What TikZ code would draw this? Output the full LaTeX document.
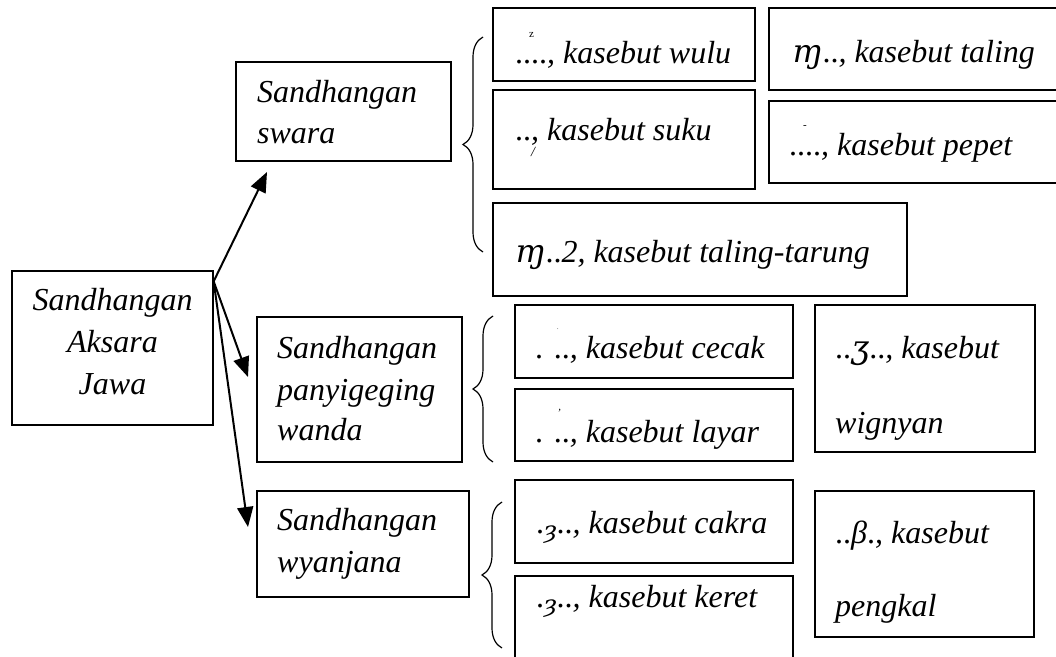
\documentclass[tikz,border=0pt]{standalone}
\usepackage{fontspec}
\setmainfont{Liberation Serif}
\newfontfamily\glyf{DejaVu Serif}
\usetikzlibrary{arrows.meta,decorations.pathreplacing,fit}
\newcommand\mrk[3]{\rlap{\kern#1\raisebox{#2}{\fontsize{11}{11}\selectfont\upshape #3}}}
\newcommand\jg[1]{{\glyf\itshape #1}}
\begin{document}
\begin{tikzpicture}[x=1pt,y=-1pt,
  box/.style={draw, line width=1.3pt, inner sep=0pt},
  lbl/.style={anchor=base west, inner sep=0pt, font=\fontsize{32}{41}\selectfont\itshape},
  lblc/.style={anchor=base, inner sep=0pt, font=\fontsize{32}{41}\selectfont\itshape},
  arr/.style={line width=2pt, -{Triangle[length=20pt,width=16pt]}},
  brc/.style={decorate, decoration={brace, amplitude=20pt}, line width=1.2pt}]
\useasboundingbox (0,0) rectangle (1056,656);
\clip (0,0) rectangle (1056,656);

% boxes
\node[box, fit={(12,271)(213,425)}] (main) {};
\node[box, fit={(236,62)(451,161)}] (swara) {};
\node[box, fit={(257,317)(462,462)}] (pany) {};
\node[box, fit={(257,491)(469,597)}] (wyan) {};
\node[box, fit={(493,8)(755,81)}] (wulu) {};
\node[box, fit={(493,90)(755,189)}] (suku) {};
\node[box, fit={(769,8)(1062,90)}] (taling) {};
\node[box, fit={(769,101)(1062,183)}] (pepet) {};
\node[box, fit={(493,203)(907,296)}] (tt) {};
\node[box, fit={(515,305)(793,378)}] (cecak) {};
\node[box, fit={(515,389)(793,461)}] (layar) {};
\node[box, fit={(815,305)(1035,452)}] (wignyan) {};
\node[box, fit={(515,480)(793,563)}] (cakra) {};
\node[box, fit={(515,576)(793,670)}] (keret) {};
\node[box, fit={(815,491)(1034,637)}] (pengkal) {};

% main labels
\node[lblc] (m1) at (112.5,310) {Sandhangan};
\node[lblc] (m2) at (112.5,352) {Aksara};
\node[lblc] (m3) at (112.5,394) {Jawa};
\node[lbl] (s1) at (257,102) {Sandhangan};
\node[lbl] (s2) at (257,143) {swara};
\node[lbl] (p1) at (277,358) {Sandhangan};
\node[lbl] (p2) at (277,400) {panyigeging};
\node[lbl] (p3) at (277,440) {wanda};
\node[lbl] (w1) at (277,530) {Sandhangan};
\node[lbl] (w2) at (277,572) {wyanjana};

% item labels
\node[lbl] (t-wulu) at (515,63) {\mrk{14pt}{26pt}{z}\upshape....\itshape, kasebut wulu};
\node[lbl] (t-suku) at (515,140) {\upshape..\rlap{\raisebox{-16pt}{\fontsize{14}{14}\selectfont\itshape /}}\itshape, kasebut suku};
\node[lbl] (t-taling) at (792,62) {\jg{ɱ}\upshape..\itshape, kasebut taling};
\node[lbl] (t-pepet) at (789,155) {\mrk{14pt}{27pt}{-}\upshape....\itshape, kasebut pepet};
\node[lbl] (t-tt) at (515,262) {\jg{ɱ}\upshape..\itshape 2, kasebut taling-tarung};
\node[lbl] (t-cecak) at (535,358) {\mrk{22pt}{29pt}{\fontsize{6}{6}\selectfont .}\upshape. ..\itshape, kasebut cecak};
\node[lbl] (t-layar) at (535,442) {\mrk{22pt}{26pt}{\itshape '}\upshape. ..\itshape, kasebut layar};
\node[lbl] (t-wig1) at (835,358) {\upshape..\jg{ʒ}\upshape..\itshape, kasebut};
\node[lbl] (t-wig2) at (835,433) {wignyan};
\node[lbl] (t-cakra) at (536,533) {\upshape.\raisebox{-5pt}{\jg{\fontsize{24}{24}\selectfont ȝ}}..\itshape, kasebut cakra};
\node[lbl] (t-keret) at (536,607) {\upshape.\raisebox{-5pt}{\jg{\fontsize{24}{24}\selectfont ȝ}}..\itshape, kasebut keret};
\node[lbl] (t-pen1) at (835,543) {\upshape..\itshape β\upshape.\itshape, kasebut};
\node[lbl] (t-pen2) at (835,616) {pengkal};

% braces
\draw[brc] (483,252) -- (483,37);
\draw[brc] (493,462) -- (493,316);
\draw[brc] (502,648) -- (502,502);

% arrows
\coordinate (o) at ([yshift=-11pt]main.north east);
\coordinate (e1) at (267,172);
\coordinate (e2) at (248,377);
\coordinate (e3) at (248,527);
\draw[arr] (o) -- (e1);
\draw[arr] (o) -- (e2);
\draw[arr] (o) -- (e3);
\end{tikzpicture}
\end{document}
